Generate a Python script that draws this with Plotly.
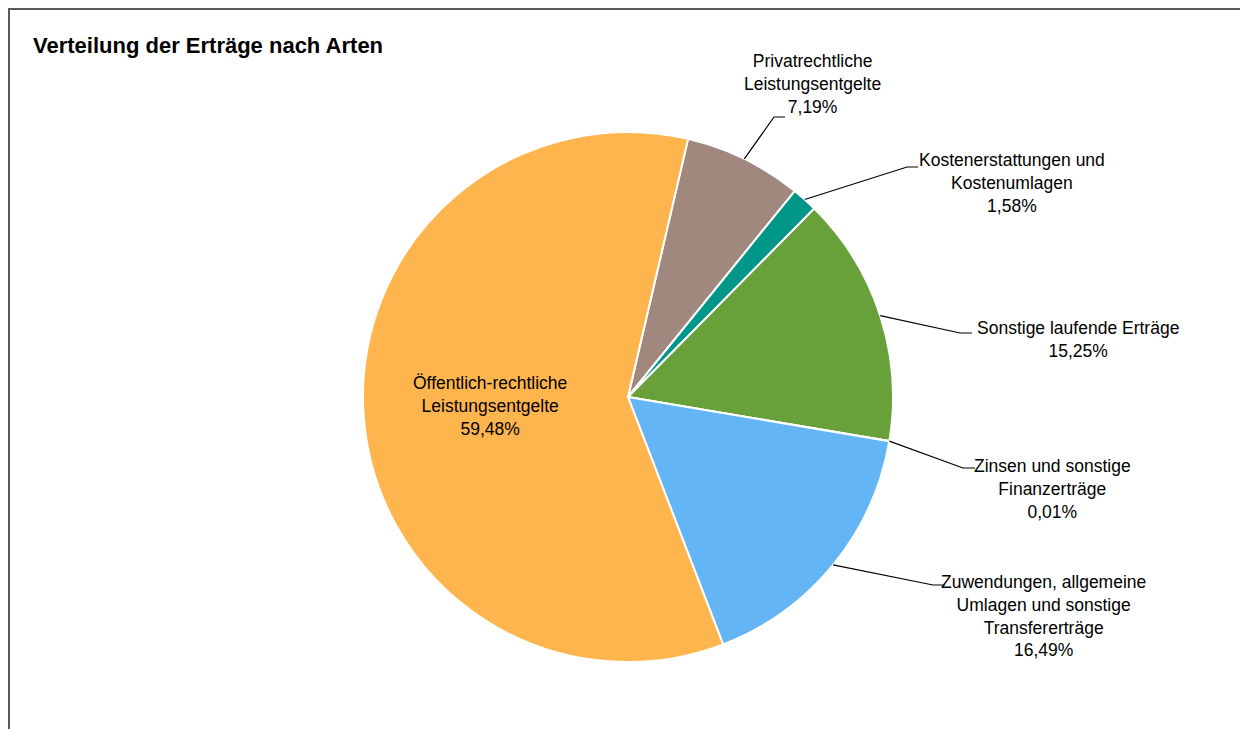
import math
import plotly.graph_objects as go

# the page body adds an 8px margin, so the figure is drawn 8px in and
# all reference pixel positions are shifted back by OFF
OFF = 8
W, H = 1240, 721

# Slice data (clockwise from the top right)
labels = ["Privatrechtliche<br>Leistungsentgelte",
          "Kostenerstattungen und<br>Kostenumlagen",
          "Sonstige laufende Erträge",
          "Zinsen und sonstige<br>Finanzerträge",
          "Zuwendungen, allgemeine<br>Umlagen und sonstige<br>Transfererträge",
          "Öffentlich-rechtliche<br>Leistungsentgelte"]
shares = [7.19, 1.58, 15.25, 0.01, 16.49, 59.48]
colors = ["#A0887E", "#009688", "#68A03A", "#D9D9D9", "#64B5F6", "#FFB54D"]

# pie geometry (reference pixels)
cx, cy, R = 628, 397, 265
rot = 13.1

# label text block centres + leader elbows, inside label has no leader
lab_pos = [(812, 84), (1012, 183), (1078, 339), (1052, 489), (1043, 616), (490, 406)]
elbows = [((774, 117), (785, 117)),
          ((907, 167), (918, 167)),
          ((960, 333), (972, 333)),
          ((963, 468), (975, 468)),
          ((933, 585), (945, 585)),
          None]


def px(x):
    return (x - OFF) / W


def py(y):
    return 1 - (y - OFF) / H


fig = go.Figure(go.Pie(
    labels=labels, values=shares, sort=False, direction="clockwise",
    rotation=rot, textinfo="none", hoverinfo="label+percent",
    marker=dict(colors=colors, line=dict(color="white", width=2)),
    domain=dict(x=[px(cx - R), px(cx + R)], y=[py(cy + R), py(cy - R)]),
    showlegend=False,
))

total = sum(shares)
start = rot
shapes = []
annotations = []
for i, (lab, v) in enumerate(zip(labels, shares)):
    mid = start + v / total * 360 / 2
    start += v / total * 360
    txt = lab + "<br>" + f"{v:.2f}".replace(".", ",") + "%"
    lx, ly = lab_pos[i]
    annotations.append(dict(x=px(lx), y=py(ly), xref="paper", yref="paper",
                            text=txt, showarrow=False, xanchor="center", yanchor="middle",
                            font=dict(size=17.5, color="#000000")))
    if elbows[i] is not None:
        a = math.radians(mid)
        sx, sy = cx + R * math.sin(a), cy - R * math.cos(a)
        (ex, ey), (fx, fy) = elbows[i]
        path = f"M {px(sx)} {py(sy)} L {px(ex)} {py(ey)} L {px(fx)} {py(fy)}"
        shapes.append(dict(type="path", path=path, xref="paper", yref="paper",
                           line=dict(color="black", width=1.2)))

# frame around the chart area
shapes.append(dict(type="rect", xref="paper", yref="paper",
                   x0=px(9), y0=py(780), x1=px(1290), y1=py(9),
                   line=dict(color="#595959", width=2)))

fig.update_layout(
    width=W, height=H,
    margin=dict(l=0, r=0, t=0, b=0),
    paper_bgcolor="white",
    font=dict(family="Liberation Sans, Arial, sans-serif"),
    title=dict(text="<b>Verteilung der Erträge nach Arten</b>", x=px(33), xanchor="left",
               y=py(45), yanchor="middle", font=dict(size=22, color="#000000")),
    shapes=shapes,
    annotations=annotations,
)

fig.write_html("out.html")
